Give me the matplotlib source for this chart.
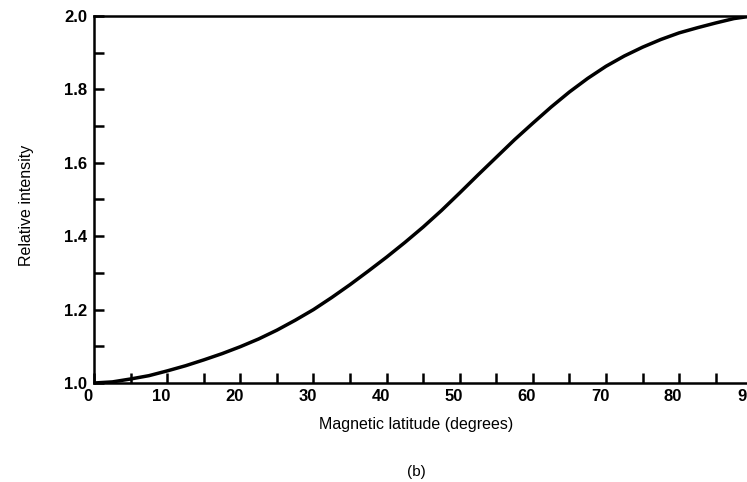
import matplotlib.pyplot as plt
import matplotlib.transforms as mtransforms
from matplotlib.ticker import MultipleLocator

latitude = [0, 2.5, 5, 7.5, 10, 12.5, 15, 17.5, 20, 22.5, 25, 27.5, 30, 32.5,
            35, 37.5, 40, 42.5, 45, 47.5, 50, 52.5, 55, 57.5, 60, 62.5, 65,
            67.5, 70, 72.5, 75, 77.5, 80, 82.5, 85, 87.5, 90]
intensity = [1.0, 1.003, 1.011, 1.02, 1.033, 1.047, 1.063, 1.08, 1.099, 1.12,
             1.144, 1.171, 1.2, 1.233, 1.268, 1.305, 1.343, 1.383, 1.425, 1.47,
             1.518, 1.567, 1.615, 1.663, 1.708, 1.752, 1.793, 1.83, 1.863,
             1.891, 1.915, 1.936, 1.954, 1.968, 1.981, 1.993, 2.0]

x_ticks = [0, 10, 20, 30, 40, 50, 60, 70, 80, 90]
y_ticks = [1.0, 1.2, 1.4, 1.6, 1.8, 2.0]

plt.rcParams['font.family'] = ['Liberation Sans', 'DejaVu Sans']

fig = plt.figure(figsize=(7.47, 4.82), dpi=100)
ax = fig.add_axes([0.126, 0.2054, 0.881, 0.7614])

ax.plot(latitude, intensity, color='black', lw=2.5,
        solid_capstyle='round', solid_joinstyle='round')

ax.set_xlim(0, 90)
ax.set_ylim(1.0, 2.0)
ax.set_xticks(x_ticks)
ax.set_yticks(y_ticks)
ax.xaxis.set_minor_locator(MultipleLocator(5))
ax.yaxis.set_minor_locator(MultipleLocator(0.1))
ax.set_xticklabels([str(v) for v in x_ticks], fontsize=12, fontweight='bold')
ax.set_yticklabels(['%.1f' % v for v in y_ticks], fontsize=12, fontweight='bold')

ax.tick_params(which='both', direction='in', width=1.8, length=7,
               top=False, right=False)
ax.tick_params(axis='x', which='both', pad=4)
ax.tick_params(axis='y', which='both', pad=5)

# nudge x labels a little left of their ticks
shift = mtransforms.ScaledTranslation(-6 / 100, 0, fig.dpi_scale_trans)
for lab in ax.get_xticklabels():
    lab.set_transform(lab.get_transform() + shift)

for side in ['left', 'bottom', 'top', 'right']:
    ax.spines[side].set_linewidth(1.8)

ax.set_xlabel('Magnetic latitude (degrees)', fontsize=11.5, va='center')
ax.xaxis.set_label_coords(0.489, -0.1144)
ax.set_ylabel('Relative intensity', fontsize=11.5, va='center')
ax.yaxis.set_label_coords(-0.1033, 0.4837)

fig.text(0.558, 0.0207, '(b)', fontsize=11, ha='center', va='center')

fig.savefig('out.png', dpi=100)
